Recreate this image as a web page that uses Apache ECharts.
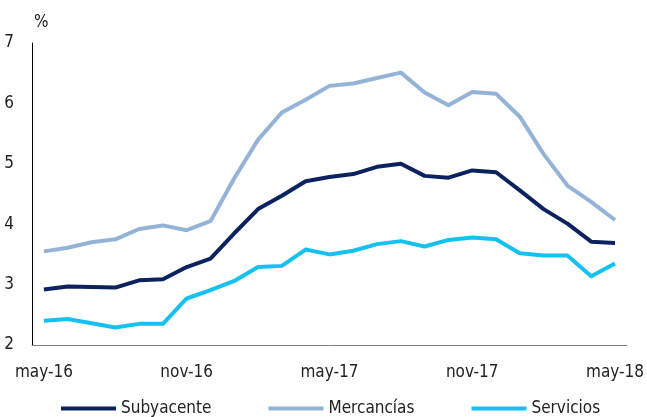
<!DOCTYPE html>
<html>
<head>
<meta charset="utf-8">
<script src="https://cdn.jsdelivr.net/npm/echarts@6/dist/echarts.min.js"></script>
<style>
  html, body { margin: 0; padding: 0; background: #fff; }
  #chart { width: 647px; height: 417px; }
</style>
</head>
<body>
<div id="chart"></div>
<script>
// months may-16 .. may-18
const months = [
  "may-16", "jun-16", "jul-16", "ago-16", "sep-16", "oct-16", "nov-16", "dic-16",
  "ene-17", "feb-17", "mar-17", "abr-17", "may-17", "jun-17", "jul-17", "ago-17",
  "sep-17", "oct-17", "nov-17", "dic-17", "ene-18", "feb-18", "mar-18", "abr-18", "may-18"
];
const subyacente = [
  2.92, 2.97, 2.96, 2.95, 3.07, 3.09, 3.29, 3.43, 3.85, 4.25, 4.47, 4.71, 4.78,
  4.83, 4.95, 5.00, 4.80, 4.77, 4.89, 4.86, 4.56, 4.25, 4.01, 3.71, 3.69
];
const mercancias = [
  3.55, 3.61, 3.70, 3.75, 3.92, 3.98, 3.90, 4.05, 4.76, 5.40, 5.85, 6.06, 6.29,
  6.33, 6.42, 6.51, 6.18, 5.97, 6.19, 6.16, 5.78, 5.16, 4.64, 4.37, 4.07
];
const servicios = [
  2.40, 2.43, 2.36, 2.29, 2.35, 2.35, 2.77, 2.91, 3.06, 3.29, 3.31, 3.58, 3.50,
  3.56, 3.67, 3.72, 3.63, 3.74, 3.78, 3.75, 3.52, 3.48, 3.48, 3.14, 3.35
];
const shownTicks = ["may-16", "nov-16", "may-17", "nov-17", "may-18"];

const font = '"Liberation Sans Narrow", "DejaVu Sans Condensed", Arial, sans-serif';

const chart = echarts.init(document.getElementById("chart"));

function line(name, data, color) {
  return {
    name: name,
    type: "line",
    data: data,
    symbol: "none",
    color: color,
    lineStyle: { width: 4, color: color, join: "round" }
  };
}

chart.setOption({
  animation: false,
  textStyle: { fontFamily: font },
  grid: { left: 32, right: 20, top: 43, bottom: 72 },
  xAxis: {
    type: "category",
    data: months,
    boundaryGap: true,
    axisLine: { lineStyle: { color: "#808080", width: 1 } },
    axisTick: { show: false },
    axisLabel: {
      interval: 0,
      color: "#222",
      fontSize: 17,
      fontFamily: font,
      margin: 19,
      formatter: v => (shownTicks.includes(v) ? v : "")
    }
  },
  yAxis: {
    type: "value",
    min: 2,
    max: 7,
    interval: 1,
    name: "%",
    nameLocation: "end",
    nameGap: 12,
    nameTextStyle: { color: "#222", fontSize: 17, fontFamily: font, align: "left", padding: [0, 0, 0, 2] },
    axisLine: { show: true, lineStyle: { color: "#000", width: 1 } },
    axisTick: { show: false },
    splitLine: { show: false },
    axisLabel: { color: "#222", fontSize: 17, fontFamily: font, margin: 18 }
  },
  legend: {
    top: 395,
    left: 56,
    itemGap: 57,
    icon: "rect",
    itemWidth: 55,
    itemHeight: 4,
    textStyle: { color: "#222", fontSize: 17, fontFamily: font },
    data: ["Subyacente", "Mercancías", "Servicios"]
  },
  series: [
    line("Subyacente", subyacente, "#0b225e"),
    line("Mercancías", mercancias, "#95b3d7"),
    line("Servicios", servicios, "#15c1f0")
  ]
});
</script>
</body>
</html>
